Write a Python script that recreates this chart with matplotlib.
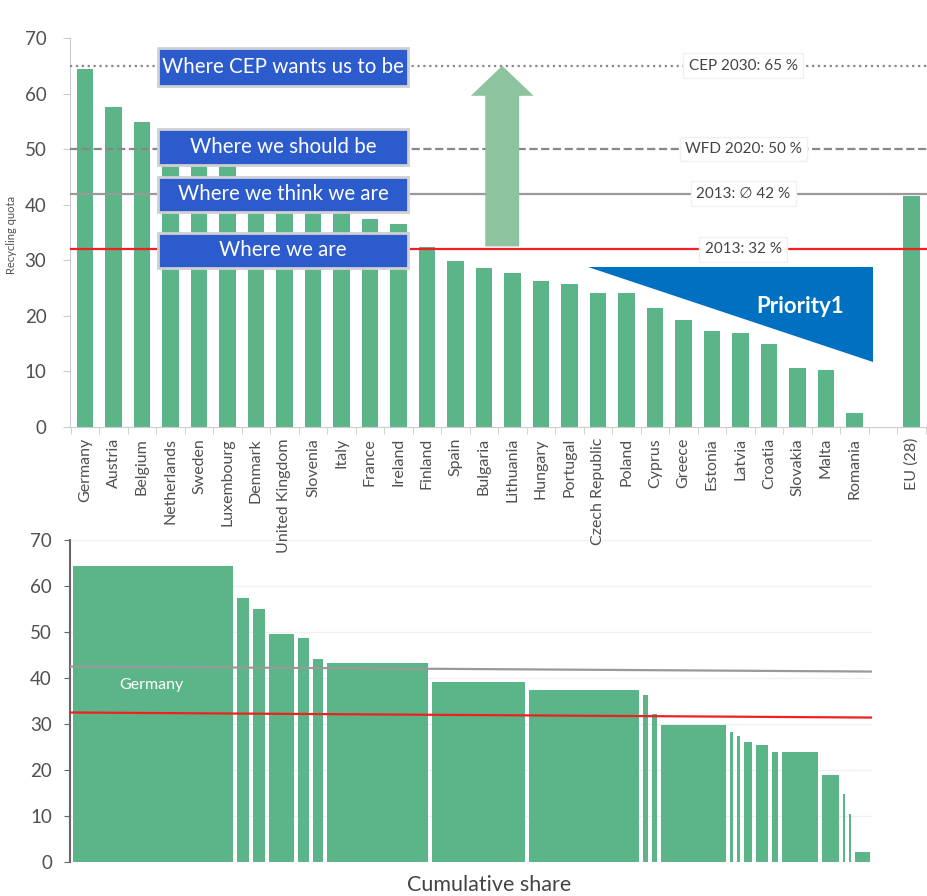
import numpy as np
import matplotlib
matplotlib.use("Agg")
import matplotlib.pyplot as plt
from matplotlib.patches import Rectangle, Polygon, FancyArrow

plt.rcParams['font.family'] = ['Lato', 'DejaVu Sans']

# ---------------- data ----------------
countries = ["Germany", "Austria", "Belgium", "Netherlands", "Sweden", "Luxembourg",
             "Denmark", "United Kingdom", "Slovenia", "Italy", "France", "Ireland",
             "Finland", "Spain", "Bulgaria", "Lithuania", "Hungary", "Portugal",
             "Czech Republic", "Poland", "Cyprus", "Greece", "Estonia", "Latvia",
             "Croatia", "Slovakia", "Malta", "Romania"]
recycling = [64.5, 57.6, 54.9, 50.5, 49.5, 47.5, 44.0, 43.5, 41.5, 39.5, 37.4, 36.5,
             32.4, 29.9, 28.6, 27.7, 26.3, 25.7, 24.1, 24.1, 21.4, 19.2, 17.3, 16.9,
             14.9, 10.6, 10.3, 2.5]
eu_label = "EU (28)"
eu_value = 41.5

ref_values = [65, 50, 42, 32]
ref_labels = ["CEP 2030: 65 %", "WFD 2020: 50 %", "2013: \u2205 42 %", "2013: 32 %"]
box_texts = ["Where CEP wants us to be", "Where we should be",
             "Where we think we are", "Where we are"]
priority_text = "Priority1"

# bottom chart: recycling quota vs cumulative share (bar widths = share %)
bottom_values = [64.3, 57.4, 54.9, 49.6, 48.8, 44.1, 43.3, 39.2, 37.4, 36.4, 32.2,
                 29.8, 28.3, 27.4, 26.1, 25.5, 24.0, 24.0, 19.0, 14.7, 10.4, 2.2]
bottom_shares = [20.5, 2.0, 2.0, 3.66, 1.91, 1.75, 13.1, 12.1, 14.3, 1.09, 1.12,
                 8.6, 0.91, 0.87, 1.54, 1.92, 1.33, 4.9, 2.7, 0.75, 0.71, 2.41]
bottom_avg_line = [42.5, 41.4]
bottom_red_line = [32.5, 31.4]
bottom_label = "Germany"
bottom_xlabel = "Cumulative share"

# ---------------- style ----------------
GREEN = "#5cb489"
ARROW_GREEN = "#8dc49f"
BOX_BLUE = "#2b5bcd"
TRI_BLUE = "#0070c0"
TXT = "#505050"
W, H = 928, 896

fig = plt.figure(figsize=(W / 100, H / 100), dpi=100)

# ================= bottom chart (drawn first, transparent) =================
ax2 = fig.add_axes([70 / W, (H - 862) / H, 802 / W, 322 / H])
ax2.patch.set_alpha(0)
shares = np.array(bottom_shares)
lefts = np.concatenate([[0], np.cumsum(shares)[:-1]])
gap = 0.5
ax2.bar(lefts, bottom_values, width=shares - gap, align='edge', color=GREEN, zorder=2)
ax2.set_xlim(-0.34, 99.9)
ax2.set_ylim(0, 70)
x0, x1 = ax2.get_xlim()
ax2.plot([x0, x1], bottom_avg_line, color="#999999", lw=1.6, zorder=3)
ax2.plot([x0, x1], bottom_red_line, color="#ee2020", lw=1.6, zorder=3)
ax2.text(lefts[0] + shares[0] / 2 - 0.4, 38.5, bottom_label, ha='center', va='center',
         fontsize=11.5, color='white', zorder=4)
ax2.set_yticks(np.arange(0, 71, 10))
ax2.yaxis.grid(True, color="#f0f0f0", lw=1, zorder=0)
ax2.set_axisbelow(True)
ax2.set_xticks([])
ax2.tick_params(axis='y', labelsize=13.5, labelcolor=TXT, color="#666666", length=4, pad=9)
for s in ["top", "right", "bottom"]:
    ax2.spines[s].set_visible(False)
ax2.spines["left"].set_color("#666666")
ax2.spines["left"].set_linewidth(1.5)
fig.text(489 / W, 1 - 885 / H, bottom_xlabel, ha='center', va='center',
         fontsize=15.5, color="#444444")

# ================= top chart =================
ax = fig.add_axes([70 / W, (H - 427) / H, (W - 70) / W, (427 - 38) / H])
ax.patch.set_alpha(0)
n = len(countries)
pos = np.arange(n)
eu_pos = n + 1
ax.bar(pos, recycling, width=0.58, color=GREEN, zorder=2)
ax.bar([eu_pos], [eu_value], width=0.58, color=GREEN, zorder=2)
ax.set_xlim(-0.526, 29.58)
ax.set_ylim(0, 70)

ax.set_xticks(list(pos) + [eu_pos])
ax.set_xticklabels(countries + [eu_label], rotation=90, fontsize=11.5, color=TXT)
ax.tick_params(axis='x', length=0, pad=8)
ax.set_xticks(np.arange(-0.5, eu_pos + 1, 1.0), minor=True)
ax.tick_params(axis='x', which='minor', length=5, color="#cccccc")
ax.set_yticks(np.arange(0, 71, 10))
ax.tick_params(axis='y', labelsize=13.5, labelcolor=TXT, color="#cccccc", length=5, pad=12)
for s in ["top", "right"]:
    ax.spines[s].set_visible(False)
ax.spines["left"].set_color("#cccccc")
ax.spines["bottom"].set_color("#cccccc")
ax.set_ylabel("Recycling quota", fontsize=8, color=TXT)
ax.yaxis.set_label_coords(-0.062, 0.494)

styles = [(':', "#888888"), ('--', "#888888"), ('-', "#999999"), ('-', "#ee2020")]
for v, lab, (ls, col) in zip(ref_values, ref_labels, styles):
    ax.axhline(v, color=col, linestyle=ls, linewidth=1.6, zorder=3)
    ax.text(23.1, v, lab, ha='center', va='center', fontsize=11, color="#444444",
            zorder=5, bbox=dict(boxstyle="square,pad=0.35", fc="white", ec="#f0f0f0"))

# green arrow from actual (red line) up to CEP target
ax.add_patch(FancyArrow(14.64, ref_values[3] + 0.5, 0, ref_values[0] - ref_values[3] - 0.5,
                        width=1.19, head_width=2.2, head_length=5.4,
                        length_includes_head=True, color=ARROW_GREEN, zorder=4, lw=0))

# priority triangle
tri = Polygon([[17.65, 28.8], [27.65, 28.8], [27.65, 11.7]], closed=True,
              facecolor=TRI_BLUE, edgecolor='none', zorder=4)
ax.add_patch(tri)
ax.text(25.1, 21.6, priority_text, ha='center', va='center', fontsize=16,
        fontweight='bold', color='white', zorder=5)

# blue boxes
box_y = [(0.877, 0.974), (0.674, 0.766), (0.553, 0.643), (0.409, 0.499)]
bx0, bw = 0.1026, 0.2914
for (y0, y1), t in zip(box_y, box_texts):
    ax.add_patch(Rectangle((bx0, y0), bw, y1 - y0, transform=ax.transAxes,
                           facecolor=BOX_BLUE, edgecolor="#d0d0d0", lw=2, zorder=6))
    ax.text(bx0 + bw / 2, (y0 + y1) / 2, t, transform=ax.transAxes, ha='center',
            va='center', fontsize=14.8, color='white', zorder=7)

fig.savefig("out.png", dpi=100)
